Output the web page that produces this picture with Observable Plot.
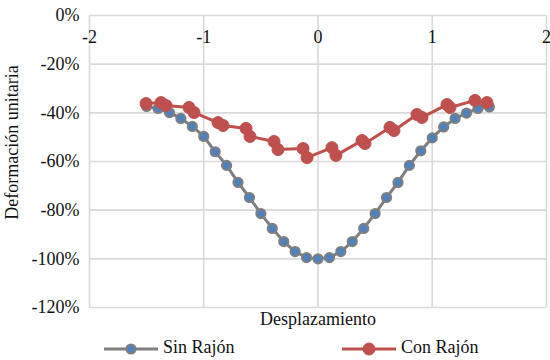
<!DOCTYPE html>
<html>
<head>
<meta charset="utf-8">
<script src="https://cdn.jsdelivr.net/npm/d3@7"></script>
<script src="https://cdn.jsdelivr.net/npm/@observablehq/plot@0.6"></script>
<style>
  body { margin: 0; background: #fff; }
  #wrap { position: relative; width: 550px; height: 360px; overflow: hidden; font-family: "Liberation Serif", Tinos, "DejaVu Serif", serif; color: #111; }
  #legend { position: absolute; left: 0; top: 335px; width: 550px; height: 25px; }
  .item { position: absolute; top: 0; height: 25px; display: flex; align-items: center; font-size: 18px; }
  .item svg { margin-right: 5px; }
</style>
</head>
<body>
<div id="wrap">
  <div id="chart"></div>
  <div id="legend"></div>
</div>
<script>
// Displacement positions and unit strain (%) for the specimen without a crack
const sinX = [-1.5, -1.4, -1.3, -1.2, -1.1, -1.0, -0.9, -0.8, -0.7, -0.6, -0.5, -0.4, -0.3, -0.2, -0.1, 0,
              0.1, 0.2, 0.3, 0.4, 0.5, 0.6, 0.7, 0.8, 0.9, 1.0, 1.1, 1.2, 1.3, 1.4, 1.5];
const sinY = [-37.4, -38.2, -39.9, -42.3, -45.6, -49.7, -56.0, -61.6, -68.6, -74.8, -81.4, -87.5, -92.9, -97.0, -99.5, -100,
              -99.5, -97.0, -92.9, -87.5, -81.4, -74.8, -68.6, -61.6, -55.6, -50.3, -45.8, -42.3, -40.1, -38.2, -37.6];

// Same measurement with a crack
const conX = [-1.505, -1.374, -1.33, -1.129, -1.085, -0.875, -0.831, -0.63, -0.595, -0.385, -0.35, -0.131, -0.096,
              0.122, 0.157, 0.385, 0.411, 0.63, 0.665, 0.866, 0.91, 1.129, 1.155, 1.374, 1.479];
const conY = [-36.2, -35.8, -37.0, -37.8, -39.9, -44.0, -45.2, -46.4, -49.7, -51.8, -55.1, -54.7, -58.4,
              -54.3, -57.5, -51.4, -52.6, -46.0, -47.3, -40.7, -41.9, -36.6, -37.8, -34.9, -35.8];

const xTicks = [-2, -1, 0, 1, 2];
const yTicks = [0, -20, -40, -60, -80, -100, -120];

const seriesNames = ["Sin Rajón", "Con Rajón"];
const lineColors = ["#7f7f7f", "#c0504d"];
const dotFills = ["#4f81bd", "#c0504d"];

const sin = sinX.map((x, i) => ({x, y: sinY[i]}));
const con = conX.map((x, i) => ({x, y: conY[i]}));

const serif = "'Liberation Serif', Tinos, 'DejaVu Serif', serif";

const chart = Plot.plot({
  width: 550,
  height: 335,
  marginLeft: 89,
  marginRight: 4,
  marginTop: 15,
  marginBottom: 28,
  style: {fontFamily: serif, fontSize: "18px", color: "#111", background: "#fff", overflow: "visible"},
  x: {domain: [-2, 2], axis: null},
  y: {domain: [-120, 0], axis: null},
  marks: [
    Plot.gridX(xTicks, {stroke: "#d9d9d9", strokeOpacity: 1, strokeWidth: 1.6}),
    Plot.gridY(yTicks, {stroke: "#d9d9d9", strokeOpacity: 1, strokeWidth: 1.6}),
    Plot.axisY(yTicks, {tickSize: 0, tickPadding: 10, tickFormat: d => `${d}%`, label: null, fontSize: 18, fontFamily: serif}),
    Plot.text(xTicks, {x: d => d, y: 0, dy: 22, text: d => `${d}`, fontSize: 18, fontFamily: serif}),
    Plot.text(["Desplazamiento"], {frameAnchor: "bottom", dy: 17, fontSize: 18, fontFamily: serif}),
    Plot.text(["Deformación unitaria"], {frameAnchor: "left", textAnchor: "middle", dx: -77, dy: -19, rotate: -90, fontSize: 18, fontFamily: serif}),
    Plot.line(sin, {x: "x", y: "y", stroke: lineColors[0], strokeWidth: 3}),
    Plot.dot(sin, {x: "x", y: "y", r: 4.6, fill: dotFills[0], stroke: lineColors[0], strokeWidth: 2}),
    Plot.line(con, {x: "x", y: "y", stroke: lineColors[1], strokeWidth: 3}),
    Plot.dot(con, {x: "x", y: "y", r: 6, fill: dotFills[1], stroke: lineColors[1], strokeWidth: 1})
  ]
});
document.getElementById("chart").appendChild(chart);

// Legend below the plot: line-with-marker swatch followed by the series name
const legendLeft = [104, 342];
const legend = document.getElementById("legend");
seriesNames.forEach((name, i) => {
  const item = document.createElement("div");
  item.className = "item";
  item.style.left = legendLeft[i] + "px";
  const r = i === 0 ? 4.6 : 6;
  const sw = i === 0 ? 2 : 1;
  item.innerHTML =
    `<svg width="54" height="20"><line x1="0" y1="11" x2="54" y2="11" stroke="${lineColors[i]}" stroke-width="3"/>` +
    `<circle cx="27" cy="11" r="${r}" fill="${dotFills[i]}" stroke="${lineColors[i]}" stroke-width="${sw}"/></svg>` +
    `<span>${name}</span>`;
  legend.appendChild(item);
});
</script>
</body>
</html>
